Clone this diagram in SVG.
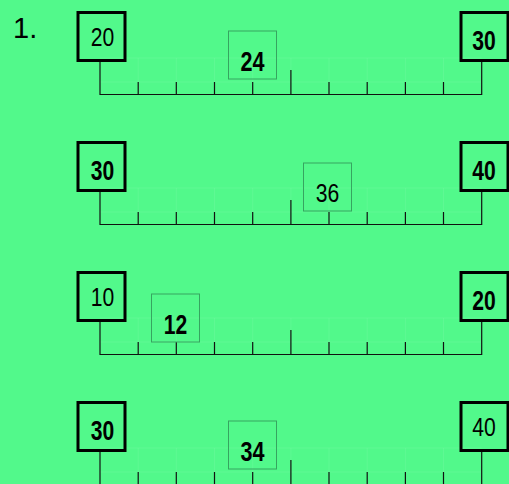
<svg xmlns="http://www.w3.org/2000/svg" width="509" height="484" viewBox="0 0 509 484">
<style>
.bg{fill:#52f98b}
.big{fill:none;stroke:#000;stroke-width:3}
.small{fill:none;stroke:#36a560;stroke-width:1}
.t{font-family:"Liberation Sans",Arial,sans-serif;font-size:26px;fill:#000;text-anchor:middle}
.b{font-weight:bold;font-size:27px}
.ln{stroke:#111;stroke-width:1.2;fill:none}
.ghost{stroke:#ffffff;stroke-opacity:0.07;stroke-width:1;fill:none}
</style>
<defs>
<g id="ruler">
<path class="ghost" d="M100,58H481.7M100,82H481.7M138.2,58V82M176.3,58V82M214.5,58V82M252.7,58V82M290.9,58V82M329,58V82M367.2,58V82M405.4,58V82M443.5,58V82"/>
<path class="ln" d="M100,62V94.5H481.7V62M138.2,82V94.5M176.3,82V94.5M214.5,82V94.5M252.7,82V94.5M290.9,70V94.5M329,82V94.5M367.2,82V94.5M405.4,82V94.5M443.5,82V94.5"/>
</g>
</defs>
<rect class="bg" x="0" y="0" width="509" height="484"/>
<text x="13" y="37.5" style="font-family:'Liberation Sans',Arial,sans-serif;font-size:29px;fill:#000">1.</text>
<g id="connectors">
<use href="#ruler"/>
<use href="#ruler" transform="translate(0,130)"/>
<use href="#ruler" transform="translate(0,260)"/>
<use href="#ruler" transform="translate(0,390)"/>
</g>
<g id="r1-left"><rect class="big" x="78" y="12.5" width="47" height="48"/><text class="t" x="102.4" y="46" textLength="23.5" lengthAdjust="spacingAndGlyphs">20</text></g>
<g id="r1-right"><rect class="big" x="461" y="12.5" width="47" height="48"/><text class="t b" x="484" y="50" textLength="23.5" lengthAdjust="spacingAndGlyphs">30</text></g>
<g id="r1-mark"><rect class="small" x="228.5" y="31" width="48" height="48"/><text class="t b" x="252.5" y="71" textLength="24" lengthAdjust="spacingAndGlyphs">24</text></g>
<g id="r2-left"><rect class="big" x="78" y="142.5" width="47" height="48"/><text class="t b" x="102.4" y="180" textLength="23.5" lengthAdjust="spacingAndGlyphs">30</text></g>
<g id="r2-right"><rect class="big" x="461" y="142.5" width="47" height="48"/><text class="t b" x="484" y="180" textLength="23.5" lengthAdjust="spacingAndGlyphs">40</text></g>
<g id="r2-mark"><rect class="small" x="303.5" y="163" width="48" height="48"/><text class="t" x="327.5" y="202" textLength="23.5" lengthAdjust="spacingAndGlyphs">36</text></g>
<g id="r3-left"><rect class="big" x="78" y="272.5" width="47" height="48"/><text class="t" x="102.4" y="306" textLength="23.5" lengthAdjust="spacingAndGlyphs">10</text></g>
<g id="r3-right"><rect class="big" x="461" y="272.5" width="47" height="48"/><text class="t b" x="484" y="310" textLength="23.5" lengthAdjust="spacingAndGlyphs">20</text></g>
<g id="r3-mark"><rect class="small" x="151.5" y="294" width="48" height="48"/><text class="t b" x="175.5" y="334" textLength="23.5" lengthAdjust="spacingAndGlyphs">12</text></g>
<g id="r4-left"><rect class="big" x="78" y="402.5" width="47" height="48"/><text class="t b" x="102.4" y="440" textLength="23.5" lengthAdjust="spacingAndGlyphs">30</text></g>
<g id="r4-right"><rect class="big" x="461" y="402.5" width="47" height="48"/><text class="t" x="484" y="436" textLength="23.5" lengthAdjust="spacingAndGlyphs">40</text></g>
<g id="r4-mark"><rect class="small" x="228.5" y="421" width="48" height="48"/><text class="t b" x="252.5" y="461" textLength="24" lengthAdjust="spacingAndGlyphs">34</text></g>
</svg>
